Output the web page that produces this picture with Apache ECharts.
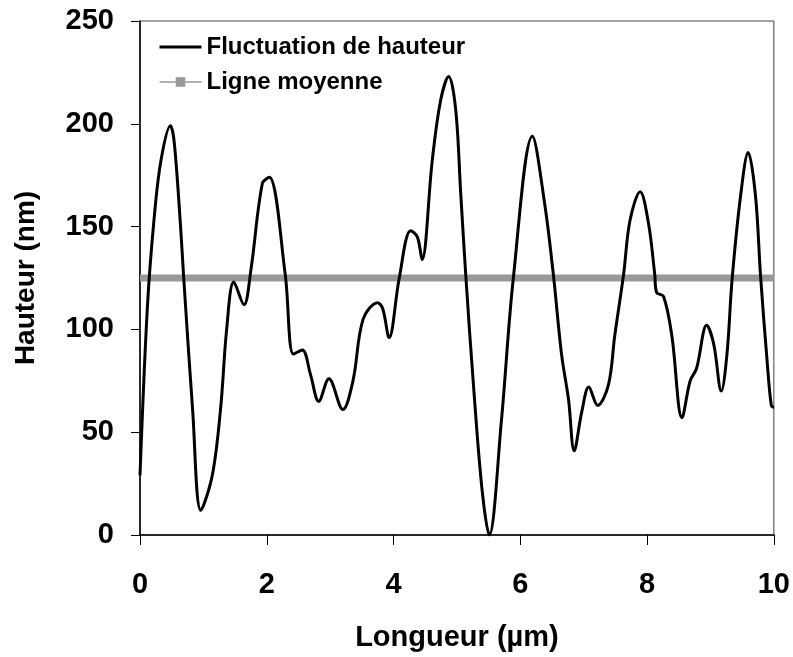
<!DOCTYPE html>
<html>
<head>
<meta charset="utf-8">
<script src="https://cdn.jsdelivr.net/npm/echarts@6/dist/echarts.min.js"></script>
<style>
  html, body { margin: 0; padding: 0; background: #fff; }
  #chart { width: 793px; height: 657px; }
</style>
</head>
<body>
<div id="chart"></div>
<script>
// profil mesuré : position (µm) et hauteur (nm)
var posX = [0, 0.115, 0.22, 0.33, 0.48, 0.54, 0.64, 0.69, 0.83, 0.96, 1.14, 1.27, 1.37, 1.48,
    1.64, 1.75, 1.93, 2.04, 2.29, 2.42, 2.56, 2.69, 2.82, 2.98, 3.20, 3.36, 3.52, 3.75, 3.83,
    3.93, 4.09, 4.27, 4.375, 4.45, 4.61, 4.74, 4.87, 4.98, 5.06, 5.14, 5.27, 5.40, 5.51, 5.70,
    5.89, 6.19, 6.38, 6.52, 6.65, 6.76, 6.85, 6.97, 7.08, 7.22, 7.39, 7.49, 7.63, 7.73, 7.89,
    8.02, 8.12, 8.15, 8.26, 8.39, 8.55, 8.68, 8.78, 8.94, 9.05, 9.17, 9.26, 9.34, 9.475,
    9.595, 9.71, 9.79, 9.895, 9.96, 10];
var hauteur = [29, 110, 153, 182, 199, 191, 150, 125, 61, 12, 29, 61, 101, 123,
    112, 129, 171, 174, 127, 88, 90, 78, 65, 76, 61, 75, 105, 113, 110,
    96, 125, 148, 145, 134, 182, 211, 223, 207, 166, 126, 69, 21, 0, 55,
    125, 194, 162, 127, 88, 66, 41, 60, 72, 63, 73, 97, 127, 153, 167,
    152, 127, 118, 116, 97, 57, 75, 81, 102, 93, 70, 88, 124, 165,
    186, 165, 126, 84, 63, 62];
var moyenneX = [0, 10];
var moyenne = [125, 125];

var profil = [];
for (var i = 0; i < posX.length; i++) {
    profil.push([posX[i], hauteur[i]]);
}
var ligne = [];
for (var j = 0; j < moyenneX.length; j++) {
    ligne.push([moyenneX[j], moyenne[j]]);
}

var myChart = echarts.init(document.getElementById('chart'));
var font = 'Liberation Sans';
option = {
    animation: false,
    backgroundColor: '#fff',
    grid: {
        left: 140,
        right: 18,
        top: 21,
        bottom: 121,
        show: true,
        borderColor: '#444',
        borderWidth: 1
    },
    legend: {
        left: 153,
        top: 30,
        orient: 'vertical',
        itemGap: 11,
        itemWidth: 42,
        itemHeight: 12,
        textStyle: { fontFamily: font, fontWeight: 'bold', fontSize: 24, color: '#000' },
        data: [
            { name: 'Fluctuation de hauteur', lineStyle: { width: 3 }, itemStyle: { opacity: 0 } },
            { name: 'Ligne moyenne', lineStyle: { width: 1.5 }, itemStyle: { color: '#999' } }
        ]
    },
    xAxis: {
        type: 'value',
        min: 0,
        max: 10,
        interval: 2,
        name: 'Longueur (µm)',
        nameLocation: 'middle',
        nameGap: 88,
        nameTextStyle: { fontFamily: font, fontWeight: 'bold', fontSize: 29, color: '#000' },
        axisLine: { lineStyle: { color: '#000', width: 1.5 } },
        axisTick: { length: 10, lineStyle: { color: '#000' } },
        axisLabel: { fontFamily: font, fontWeight: 'bold', fontSize: 29, color: '#000', margin: 35 },
        splitLine: { show: false }
    },
    yAxis: {
        type: 'value',
        min: 0,
        max: 250,
        interval: 50,
        name: 'Hauteur (nm)',
        nameLocation: 'middle',
        nameGap: 100,
        nameTextStyle: { fontFamily: font, fontWeight: 'bold', fontSize: 28, color: '#000' },
        axisLine: { show: true, lineStyle: { color: '#000', width: 1.5 } },
        axisTick: { show: true, length: 9, lineStyle: { color: '#000' } },
        axisLabel: { fontFamily: font, fontWeight: 'bold', fontSize: 29, color: '#000', margin: 26 },
        splitLine: { show: false }
    },
    series: [
        {
            name: 'Fluctuation de hauteur',
            type: 'line',
            smooth: 0.35,
            symbol: 'none',
            lineStyle: { color: '#000', width: 3 },
            itemStyle: { color: '#000' },
            data: profil,
            z: 3
        },
        {
            name: 'Ligne moyenne',
            type: 'line',
            symbol: 'rect',
            symbolSize: 6,
            showSymbol: false,
            lineStyle: { color: '#999', width: 7 },
            itemStyle: { color: '#999' },
            data: ligne,
            z: 2
        }
    ]
};

myChart.setOption(option);
</script>
</body>
</html>
